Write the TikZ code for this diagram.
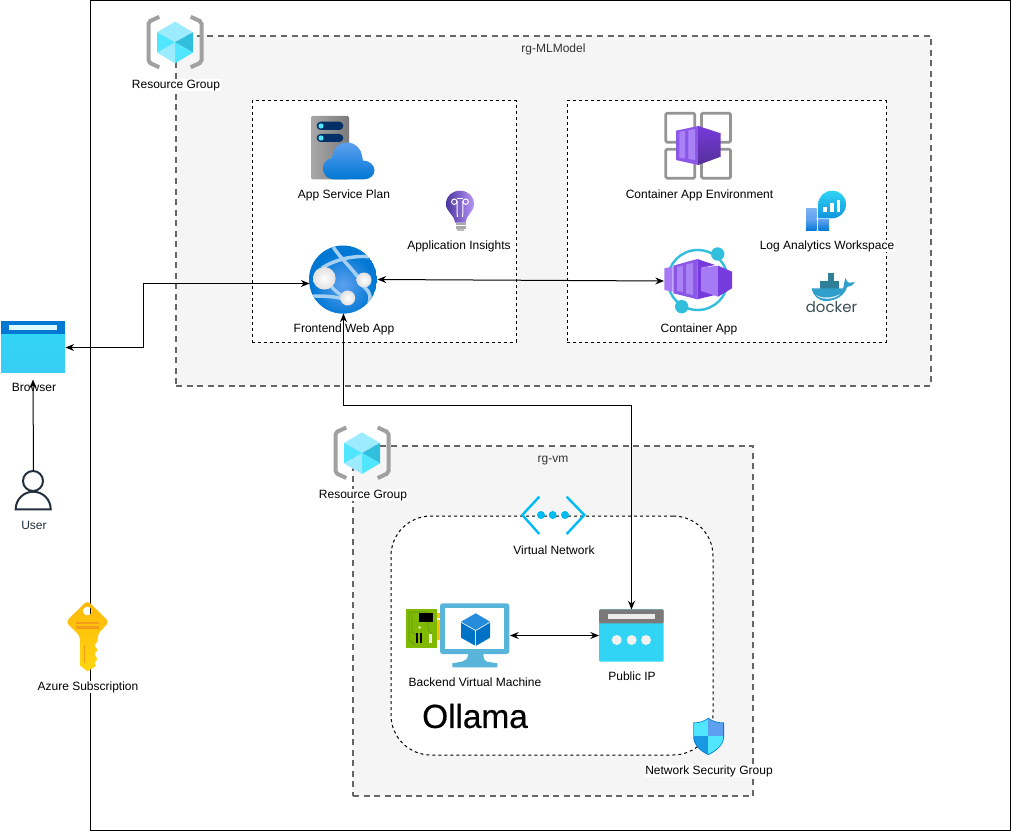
\documentclass[tikz,border=0pt]{standalone}
\usepackage{fontspec}
\setmainfont{Liberation Sans}
\newfontfamily\logofont{Poppins}
\newfontfamily\ollamafont[FakeBold=0.5]{Liberation Sans}
\usetikzlibrary{arrows.meta}
\definecolor{rgfill}{HTML}{F5F5F5}
\definecolor{rgline}{HTML}{666666}
\definecolor{bracket}{HTML}{A0A0A0}
\definecolor{cubeA}{HTML}{9CEBFF}
\definecolor{cubeB}{HTML}{50E6FF}
\definecolor{cubeC}{HTML}{32BEDD}
\definecolor{azblue}{HTML}{0078D4}
\definecolor{azlight}{HTML}{5EA0EF}
\definecolor{azcyan}{HTML}{32D4F5}
\definecolor{navy}{HTML}{003067}
\definecolor{grayA}{HTML}{A8A8A8}
\definecolor{grayB}{HTML}{7A7A7A}
\definecolor{band}{HTML}{A6D0F2}
\definecolor{purA}{HTML}{A67AF4}
\definecolor{purB}{HTML}{773ADC}
\definecolor{purC}{HTML}{552F99}
\definecolor{purD}{HTML}{A983F6}
\definecolor{ring}{HTML}{32BEDD}
\definecolor{vnetc}{HTML}{00BCF2}
\definecolor{vmblue}{HTML}{59B4D9}
\definecolor{vmcube}{HTML}{0072C6}
\definecolor{board}{HTML}{7FBA00}
\definecolor{trace}{HTML}{5E9624}
\definecolor{gold}{HTML}{FFC000}
\definecolor{userc}{HTML}{232F3E}
\definecolor{keyA}{HTML}{FEB80C}
\definecolor{keyB}{HTML}{FFD70F}
\definecolor{keyC}{HTML}{F49B17}
\definecolor{dockt}{HTML}{394D54}
\definecolor{dockb}{HTML}{2F9FCB}
\definecolor{dockc}{HTML}{2F7F98}
\definecolor{labgray}{HTML}{333333}
\tikzset{
  x=0.75pt,y=-0.75pt,
  rgbox/.style={fill=rgfill,draw=rgline,line width=1.5pt,dash pattern=on 4.5pt off 3.4pt},
  innerbox/.style={fill=white,draw=black,line width=.75pt,dash pattern=on 2.25pt off 2.25pt},
  lab/.style={font=\fontsize{9}{11}\selectfont,inner sep=.4pt,text height=7pt,text depth=1.8pt,text=black},
  whitelab/.style={lab,fill=white},
  iconbox/.style={inner sep=0pt,outer sep=0pt,rectangle},
  conn/.style={line width=.75pt,black,{Stealth[length=6.5pt,width=5.2pt]}-{Stealth[length=6.5pt,width=5.2pt]}},
  oneway/.style={line width=.75pt,black,-{Stealth[length=6.5pt,width=5.2pt]}},
  rgicon/.pic={
    \draw[bracket,line width=3pt,rounded corners=1.5pt] (-15.7,-25.5) -- (-26.5,-20.5) -- (-26.5,20) -- (-15.7,25);
    \draw[bracket,line width=3pt,rounded corners=1.5pt] (15.7,-25.5) -- (26.5,-20.5) -- (26.5,20) -- (15.7,25);
    \fill[cubeA] (-18,-10) -- (0,-20.7) -- (18,-10) -- (0,0) -- cycle;
    \fill[cubeC] (18,-10) -- (18,10.3) -- (0,0) -- cycle;
    \fill[cubeB] (18,10.3) -- (0,21) -- (0,0) -- cycle;
    \fill[cubeA] (0,21) -- (-18,10.3) -- (0,0) -- cycle;
    \fill[cubeB] (-18,10.3) -- (-18,-10) -- (0,0) -- cycle;
  }
}
\begin{document}
\begin{tikzpicture}
\useasboundingbox (0,0) rectangle (1011,831);
% frames
\node[iconbox,draw=black,line width=.75pt,minimum width=690pt,minimum height=622.5pt] (frame) at (550.5,415.5) {};
\node[iconbox,rgbox,minimum width=566pt,minimum height=262.5pt] (rgml) at (553.5,211) {};
\node[iconbox,rgbox,minimum width=300pt,minimum height=262.5pt] (rgvm) at (553,621) {};
\node[iconbox,innerbox,minimum width=198pt,minimum height=180.75pt] (planbox) at (384,221.5) {};
\node[iconbox,innerbox,minimum width=239.25pt,minimum height=180.75pt] (envbox) at (726.5,221.5) {};
\node[iconbox,innerbox,rounded corners=30pt,minimum width=241.5pt,minimum height=179.25pt] (vnetbox) at (552,635.5) {};
% icon anchors
\node[iconbox,minimum width=48.75pt,minimum height=48pt] (browser) at (33,347.5) {};
\node[iconbox,minimum width=51pt,minimum height=51pt] (webapp) at (343.5,279.5) {};
\node[iconbox,minimum width=51pt,minimum height=51pt] (containerapp) at (698,281) {};
\node[iconbox,minimum width=52.5pt,minimum height=48pt] (vm) at (475,635.5) {};
\node[iconbox,minimum width=48.75pt,minimum height=39pt] (publicip) at (631.5,635.5) {};
\node[iconbox,minimum width=27pt,minimum height=29.25pt] (user) at (33.5,490) {};
\coordinate (elbowA) at (143.5,283.5);
\coordinate (elbowB) at (631.5,405.5);
% resource groups
\pic at (175,42.3) {rgicon};
\pic at (362,453) {rgicon};
% app service plan
\shade[left color=grayA,right color=grayB,rounded corners=1pt] (311,116) rectangle (349,179.3);
\fill[navy,rounded corners=3pt] (316.7,121.7) rectangle (343.3,130);
\fill[navy,rounded corners=3pt] (316.7,134) rectangle (343.3,142);
\fill[cubeB] (321,126) circle[radius=2.6];
\fill[cubeB] (321,138) circle[radius=2.6];
\shade[top color=azlight,bottom color=azblue] (333.5,179.3) .. controls (327.5,179.3) and (323,174.5) .. (323,168.5) .. controls (323,163) and (327,158.5) .. (332,158) .. controls (333,149) and (338,142.5) .. (347,142.5) .. controls (355,142.5) and (361,148) .. (362,156) .. controls (363,158) and (363,159) .. (363,160.5) .. controls (369,160.5) and (374.5,165) .. (374.5,170) .. controls (374.5,175.5) and (370,179.3) .. (364,179.3) -- cycle;
% application insights
\fill[grayA] (455.5,223) rectangle (465.5,229) ;
\fill[white] (455.5,225) rectangle (465.5,225.7);
\fill[grayB!50] (457,229) rectangle (464,231);
\shade[left color=purC!90!azblue,right color=purA!80!white] (455,222.7) .. controls (454,214) and (446,212) .. (446,204) .. controls (446,196) and (452,190.7) .. (460,190.7) .. controls (468,190.7) and (474,196) .. (474,204) .. controls (474,212) and (466.5,214) .. (465.7,222.7) -- cycle;
\draw[white,line width=.75pt] (454.3,201.7) circle[radius=2.7];
\draw[white,line width=.75pt] (465.7,201.7) circle[radius=2.7];
\draw[white,line width=.75pt] (457,201) -- (457.3,217);
\draw[white,line width=.75pt] (463,201) -- (462.7,217);
\draw[white,line width=.75pt] (457,199) -- (463,199);
% web app
\begin{scope}
\clip (343,279.5) circle[radius=34];
\fill[azblue] (343,279.5) circle[radius=34];
\shade[inner color=azlight,outer color=azblue] (343,285) circle[radius=32];
\draw[band,line width=2.6pt] (333.3,247) .. controls (340,258) and (352,268) .. (360,280);
\draw[band,line width=2.6pt] (322,268) .. controls (338,258) and (358,254) .. (380,258);
\draw[band,line width=2.6pt] (312,296) .. controls (322,296) and (335,296) .. (348,300);
\draw[band,line width=2.6pt] (326,280) .. controls (332,288) and (338,294) .. (346,298);
\draw[band,line width=2.6pt] (362,285) .. controls (370,292) and (372,296) .. (368,306);
\end{scope}
\shade[inner color=white,outer color=white!88!black] (324.3,278.3) circle[radius=11.3];
\shade[inner color=white,outer color=white!88!black] (364,280) circle[radius=7.5];
\shade[inner color=white,outer color=white!88!black] (347.7,298) circle[radius=7.5];
% container app environment
\foreach \a/\b in {664.3/111.7,700/111.7,664.3/147.7,700/147.7}{
  \draw[grayB!80,line width=2pt,rounded corners=1pt] (\a+1.5,\b+1.5) rectangle (\a+30.5,\b+30.5);
}
\fill[purB!55!purA] (676,130.7) -- (698.3,126) -- (698.3,165) -- (676,160) -- cycle;
\shade[top color=purB,bottom color=purC] (698.3,126) -- (720.7,133.3) -- (720.7,156.7) -- (698.3,165) -- cycle;
\fill[purD] (679.3,132) -- (685,130.8) -- (685,158.5) -- (679.3,157.7) -- cycle;
\fill[purD] (688.3,130.3) -- (695,129) -- (695,160) -- (688.3,159) -- cycle;
% container app
\draw[ring,line width=1.8pt] (697.7,280) circle[radius=30];
\fill[ring] (717.7,254) circle[radius=6.7];
\fill[ring] (681.7,306.7) circle[radius=6.7];
\fill[purA] (664.3,268.3) -- (672.7,266.7) -- (672.7,291.7) -- (664.3,290) -- cycle;
\fill[purB!55!purA] (673.3,265.7) -- (697.3,259) -- (697.3,299.3) -- (673.3,293.3) -- cycle;
\fill[purD] (677,267) -- (683,265.5) -- (683,292) -- (677,291) -- cycle;
\fill[purD] (686,264.5) -- (693,263) -- (693,295) -- (686,293.5) -- cycle;
\fill[purB] (697.3,259) -- (715,265) -- (701.7,267.7) -- (701.7,291) -- (715,295) -- (697.3,299.3) -- cycle;
\fill[purA] (701.7,267.7) -- (718,265.7) -- (718,296.7) -- (701.7,291) -- cycle;
\fill[purB] (718,265.7) -- (732,271.7) -- (732,288.3) -- (718,296.7) -- cycle;
% log analytics
\shade[top color=azcyan,bottom color=azblue!70!azcyan] (818.3,218.3) -- (818.3,204.3) .. controls (818.3,196.5) and (824.5,190.7) .. (832.3,190.7) .. controls (840,190.7) and (846,196.5) .. (846,204.3) .. controls (846,212) and (840,218.3) .. (832.3,218.3) -- cycle;
\fill[white] (823.3,207.3) rectangle (826.7,212.3);
\fill[white] (830,203.3) rectangle (833.7,212.3);
\fill[white] (837,200) rectangle (840.3,212.3);
\shade[top color=azlight!80!white,bottom color=azlight] (806,208.3) rectangle (816.7,219);
\shade[top color=azlight,bottom color=azblue] (806,220) rectangle (816.7,230.7);
\shade[top color=azlight,bottom color=azblue] (818.3,220) rectangle (829,230.7);
% docker
\fill[dockc] (820,281.5) rectangle (838.5,289);
\fill[dockc] (827.8,273) rectangle (833.6,281.5);
\fill[dockb] (845.5,278) .. controls (846,281) and (848,283) .. (850,283) .. controls (851,282) and (853,282) .. (855,282.5) .. controls (853,285) and (850,287) .. (847,287) .. controls (845,295) and (836,301) .. (826,301) .. controls (818,301) and (813,295) .. (811.5,288.5) -- (843,288.5) .. controls (844,286) and (844,282) .. (845.5,278) -- cycle;
\fill[white!80!dockb] (816,295) .. controls (822,298.5) and (832,298.5) .. (840,294) .. controls (835,300) and (821,300.5) .. (816,295) -- cycle;
\node[iconbox,text=dockt,font=\logofont\fontsize{11.2}{13}\selectfont] (dockerlogo) at (831.5,307) {docker};
% virtual network
\draw[vnetc,line width=1.8pt] (539.3,496.7) -- (522.3,515) -- (539.3,534);
\draw[vnetc,line width=1.8pt] (566.7,496.7) -- (584.3,515) -- (566.7,534);
\fill[vnetc] (541,515) circle[radius=4];
\fill[vnetc] (552.7,515) circle[radius=4];
\fill[vnetc] (565,515) circle[radius=4];
% virtual machine
\fill[gold] (436.7,612.7) rectangle (440.5,640);
\fill[white] (436.7,618) rectangle (440.5,620);
\fill[board] (406,609.3) rectangle (436.7,647.7);
\draw[trace,line width=.5pt] (409,612) -- (409,640) -- (415,645) (412,614) -- (412,632) -- (416,635) (409,612) -- (428,612) -- (428,630) -- (432,634);
\fill[black] (419,613.3) rectangle (433.3,621.7);
\fill[black] (416,633.3) rectangle (418.3,643.3);
\fill[black] (420,633.3) rectangle (422.3,643.3);
\fill[white!85!board] (429,634) rectangle (432.3,643.3);
\fill[white!70!board] (419.5,627.5) circle[radius=1.5];
\fill[vmblue,rounded corners=2pt] (440,603.3) rectangle (509.3,654);
\fill[white] (445,608.3) rectangle (504.3,649.3);
\fill[vmblue] (468.3,654) -- (483.3,654) .. controls (483.5,659) and (485,661.5) .. (487,661.7) -- (497.3,663.3) -- (497.3,667.3) -- (452.3,667.3) -- (452.3,663.3) -- (462,661.7) .. controls (465,661) and (468,659) .. (468.3,654) -- cycle;
\fill[azblue!85!white] (475.7,613.3) -- (490,621.7) -- (475.7,630) -- (461,621.7) -- cycle;
\fill[vmcube] (461,622.7) -- (475.2,630.8) -- (475.2,645.7) -- (461,637.7) -- cycle;
\fill[vmcube] (490,622.7) -- (476.2,630.8) -- (476.2,645.7) -- (490,637.7) -- cycle;
% public IP
\fill[azcyan,rounded corners=1pt] (599,609.3) rectangle (663.7,661.7);
\fill[grayB,rounded corners=1pt] (599,609.3) rectangle (663.7,623.3);
\fill[white!92!black] (607.7,614) rectangle (655,618.7);
\foreach \a in {616.7,631.7,646}{\fill[white!95!black] (\a,640) circle[radius=5];}
% shield
\fill[azblue] (708.3,717.8) .. controls (713,721.5) and (719,722.5) .. (724,722.5) -- (724,737) .. controls (724,745) and (716,751.5) .. (708.3,755) .. controls (700.5,751.5) and (693.3,745) .. (693.3,737) -- (693.3,722.5) .. controls (698,722.5) and (704,721.5) .. (708.3,717.8) -- cycle;
\begin{scope}
\clip (708.3,718.8) .. controls (713,722) and (719,723.3) .. (723.2,723.3) -- (723.2,737) .. controls (723.2,744.5) and (716,750.5) .. (708.3,754) .. controls (700.5,750.5) and (694.1,744.5) .. (694.1,737) -- (694.1,723.3) .. controls (698,723.3) and (704,722) .. (708.3,718.8) -- cycle;
\fill[cubeB] (690,715) rectangle (708.3,736);
\fill[azlight] (708.3,715) rectangle (727,736);
\fill[azblue!70!cubeB] (690,736) rectangle (708.3,757);
\fill[cubeB] (708.3,736) rectangle (727,757);
\end{scope}
% browser
\shade[top color=azcyan,bottom color=azcyan!85!azlight] (1,334) rectangle (65,372.3);
\fill[azblue] (1,321) rectangle (65,334);
\fill[white!80!cubeB] (9.3,324.7) rectangle (56.7,330);
% user
\draw[userc,line width=1.5pt,fill=white] (15.7,509.3) .. controls (15.7,499) and (24,491.7) .. (33.2,491.7) .. controls (42.4,491.7) and (50.7,499) .. (50.7,509.3) -- cycle;
\draw[userc,line width=1.5pt,fill=white] (33,481) circle[radius=10];
% key
\shade[top color=keyA,bottom color=keyB,even odd rule] (87.3,600.5) [rounded corners=3pt] -- (109.3,622) -- (97.7,634) [sharp corners] -- (97.7,641) -- (94.5,645) -- (97.5,650) -- (94.5,654) -- (97.5,659) -- (94.5,663) -- (96,666) -- (87.3,671.3) -- (80,665.5) [rounded corners=3pt] -- (80,636) -- (65.7,622) -- cycle (87.3,611) circle[radius=4.5];
\fill[keyC] (76.3,621.7) rectangle (99.3,624.3);
\fill[keyC] (76.3,626) rectangle (99.3,628.7);
\fill[keyC] (83.5,645) rectangle (84.7,663.3);
% labels
\node[lab,text=labgray] (lblrgml) at (553.5,49) {rg-MLModel};
\node[lab,text=labgray] (lblrgvm) at (553,459) {rg-vm};
\node[whitelab] (lblrgA) at (176,85) {Resource Group};
\node[whitelab] (lblrgB) at (363,495) {Resource Group};
\node[lab] (lblplan) at (344,195) {App Service Plan};
\node[lab] (lblinsights) at (459,246.5) {Application Insights};
\node[lab] (lblfront) at (344,329) {Frontend Web App};
\node[lab] (lblenv) at (699.5,195) {Container App Environment};
\node[whitelab] (lbllog) at (827,246) {Log Analytics Workspace};
\node[lab] (lblcapp) at (699,329) {Container App};
\node[lab] (lblbrowser) at (34,388) {Browser};
\node[lab,text=userc] (lbluser) at (34,526) {User};
\node[whitelab] (lblsub) at (88,687) {Azure Subscription};
\node[lab] (lblvnet) at (554,551) {Virtual Network};
\node[lab] (lblvm) at (475,683) {Backend Virtual Machine};
\node[lab] (lblip) at (632,677) {Public IP};
\node[whitelab] (lblnsg) at (709,771) {Network Security Group};
\node[iconbox,font=\ollamafont\fontsize{25}{30}\selectfont] (ollama) at (475,716) {Ollama};
% connectors
\draw[oneway] (user.north) -- (browser.south);
\draw[conn] (browser.east) -| (elbowA) -- ([yshift=-3pt]webapp.west);
\draw[conn] (webapp.east) -- (containerapp.west);
\draw[conn] (webapp.south) |- (elbowB) -- (publicip.north);
\draw[conn] (vm.east) -- (publicip.west);
\end{tikzpicture}
\end{document}
